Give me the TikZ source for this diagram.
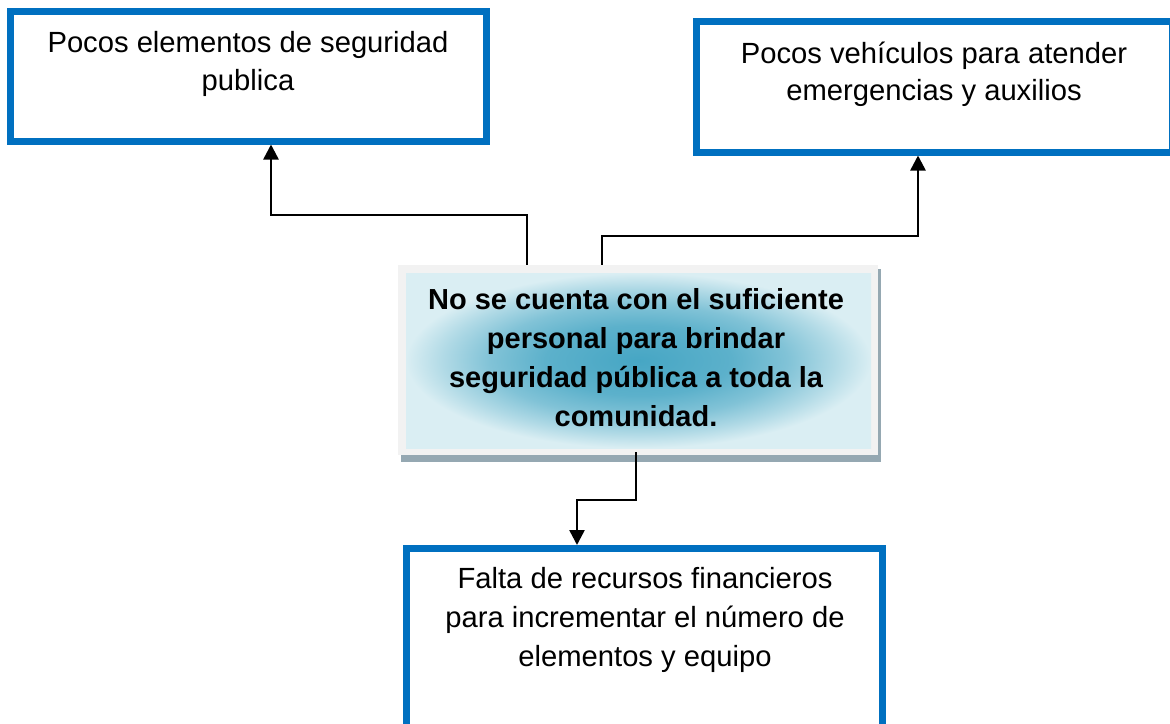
\documentclass[tikz,border=0pt]{standalone}
\usepackage{fontspec}
\setmainfont{Liberation Sans}
\usetikzlibrary{arrows.meta}
\definecolor{boxblue}{RGB}{0,112,192}
\definecolor{framec}{RGB}{242,242,242}
\definecolor{shadowc}{RGB}{149,168,178}
\definecolor{darkc}{RGB}{70,166,196}
\definecolor{lightc}{RGB}{218,238,243}
\pgfdeclareradialshading{centerglow}{\pgfpoint{0bp}{0bp}}{%
  color(0bp)=(darkc); color(10bp)=(darkc!85!lightc); color(16bp)=(darkc!60!lightc);
  color(21bp)=(darkc!28!lightc); color(25bp)=(lightc); color(50bp)=(lightc)}
\tikzset{
  bluebox/.style={draw=boxblue, line width=7pt, fill=white, inner sep=0pt},
  txt/.style={font=\fontsize{29.2}{34}\selectfont, anchor=base, inner sep=0pt},
  btxt/.style={font=\bfseries\fontsize{29}{34}\selectfont, anchor=base, inner sep=0pt},
  arr/.style={line width=2.5pt, -{Triangle[width=15pt,length=15pt]}},
}
\begin{document}
\begin{tikzpicture}[x=1pt,y=-1pt]
\useasboundingbox (0,0) rectangle (1170,723);
\clip (0,0) rectangle (1170,723);
% top left box
\node[bluebox, minimum width=476.5pt, minimum height=130pt] (b1) at (248.25,76) {};
\node[txt] (t1a) at (248,52) {Pocos elementos de seguridad};
\node[txt] (t1b) at (248,90) {publica};
% top right box
\node[bluebox, minimum width=476pt, minimum height=130.5pt] (b2) at (934,86.75) {};
\node[txt] (t2a) at (934,63) {Pocos vehículos para atender};
\node[txt] (t2b) at (934,100.5) {emergencias y auxilios};
% central box
\fill[shadowc] (401,269) rectangle (881,462);
\node[fill=framec, inner sep=0pt, minimum width=480pt, minimum height=190pt] (cbox) at (638,360) {};
\fill[shading=centerglow] (406,273) rectangle (871,448);
\node[btxt] (c1) at (636,309.5) {No se cuenta con el suficiente};
\node[btxt] (c2) at (636,348) {personal para brindar};
\node[btxt] (c3) at (636,387) {seguridad pública a toda la};
\node[btxt] (c4) at (636,426.5) {comunidad.};
% bottom box
\node[bluebox, minimum width=476pt, minimum height=211.5pt] (b3) at (644.5,654.25) {};
\node[txt] (t3a) at (645,588.5) {Falta de recursos financieros};
\node[txt] (t3b) at (645,627) {para incrementar el número de};
\node[txt] (t3c) at (645,666.5) {elementos y equipo};
% connectors
\coordinate (l1) at (527,215);
\coordinate (l2) at (271,215);
\coordinate (r1) at (602,236);
\coordinate (r2) at (918,236);
\coordinate (d1) at (636,500);
\coordinate (d2) at (577,500);
\draw[arr] (cbox.north -| l1) -- (l1) -- (l2) -- (b1.south -| l2);
\draw[arr] (cbox.north -| r1) -- (r1) -- (r2) -- (b2.south -| r2);
\draw[arr] ([yshift=3pt]cbox.south -| d1) -- (d1) -- (d2) -- (b3.north -| d2);
\end{tikzpicture}
\end{document}
